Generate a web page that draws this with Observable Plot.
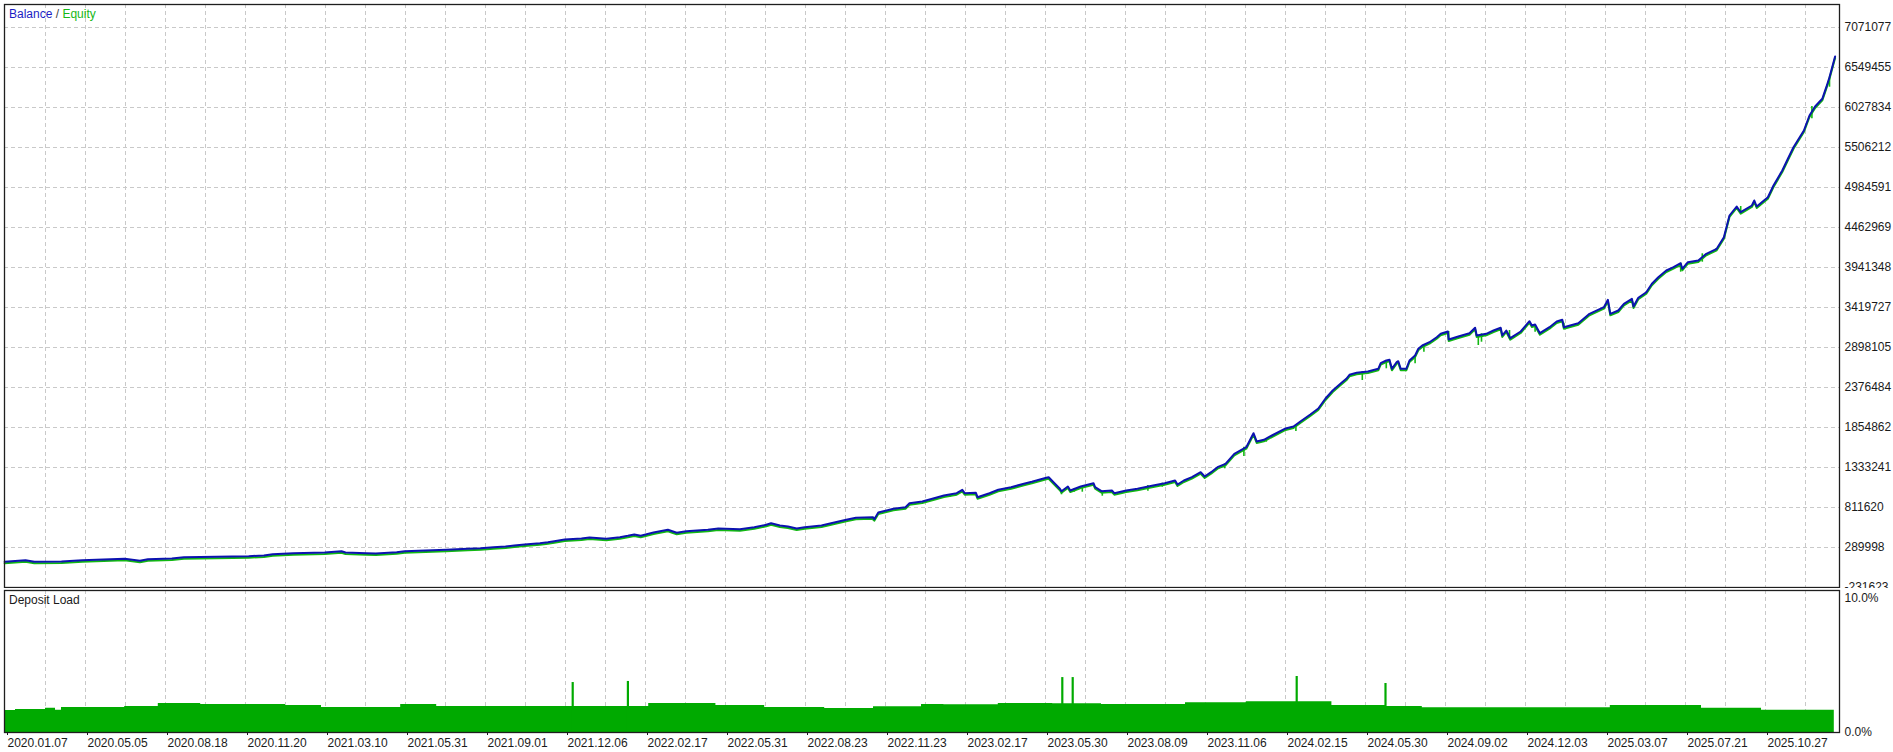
<!DOCTYPE html>
<html><head><meta charset="utf-8">
<script src="https://cdn.jsdelivr.net/npm/d3@7"></script>
<script src="https://cdn.jsdelivr.net/npm/@observablehq/plot@0.6"></script>
<style>
body{margin:0;background:#fff;}
#wrap{position:relative;width:1893px;height:752px;overflow:hidden;font-family:"Liberation Sans",Arial,sans-serif;background:#fff;}
#wrap svg{display:block;}
.lbl{position:absolute;font-size:12px;line-height:14px;white-space:pre;color:#1a1a1a;}
</style></head><body>
<div id="wrap"></div>
<script>
// x positions are expressed in "date label steps": 0 = first label, 1 = second label, ...
const dateLabels = ["2020.01.07","2020.05.05","2020.08.18","2020.11.20","2021.03.10","2021.05.31","2021.09.01","2021.12.06","2022.02.17","2022.05.31","2022.08.23","2022.11.23","2023.02.17","2023.05.30","2023.08.09","2023.11.06","2024.02.15","2024.05.30","2024.09.02","2024.12.03","2025.03.07","2025.07.21","2025.10.27"];

const balanceTicks = [-231623, 289998, 811620, 1333241, 1854862, 2376484, 2898105, 3419727, 3941348, 4462969, 4984591, 5506212, 6027834, 6549455, 7071077];

const loadTicks = [0, 10];

// [position, balance]
const balance = [
[-0.01,103519],[0.25,124384],[0.36,103519],[0.70,107431],[0.96,124384],[1.49,142641],[1.68,116559],[1.78,137424],
[2.08,146553],[2.23,163505],[3.04,176546],[3.23,185674],[3.34,202627],[3.60,215668],[3.99,224796],[4.20,241749],
[4.25,224796],[4.51,215668],[4.63,211755],[4.89,228708],[4.99,241749],[5.51,260005],[5.78,273046],[5.94,280870],
[6.10,293911],[6.25,303039],[6.36,316080],[6.49,329120],[6.68,346073],[6.78,359113],[6.86,372154],[6.99,394323],
[7.20,407363],[7.30,420404],[7.51,403451],[7.68,424316],[7.78,442573],[7.86,459526],[7.94,442573],[7.99,455613],
[8.10,485607],[8.28,520816],[8.39,481695],[8.51,502559],[8.78,520816],[8.91,537769],[9.18,528641],[9.36,554722],
[9.51,586019],[9.57,606884],[9.68,576890],[9.78,563850],[9.89,537769],[9.99,554722],[10.20,576890],[10.36,616012],
[10.51,651222],[10.63,677303],[10.84,685127],[10.86,659046],[10.91,746418],[11.10,794667],[11.25,815532],[11.30,867694],
[11.46,889863],[11.63,938113],[11.73,968107],[11.89,998100],[11.96,1042438],[11.99,998100],[12.13,1003316],[12.15,945938],
[12.30,998100],[12.41,1042438],[12.57,1076343],[12.73,1120681],[12.83,1146762],[13.01,1198924],[13.04,1206749],[13.10,1141546],
[13.18,1055478],[13.20,1024181],[13.28,1085472],[13.31,1033309],[13.44,1085472],[13.60,1128505],[13.62,1076343],[13.70,1024181],
[13.83,1033309],[13.86,998100],[14.01,1033309],[14.15,1055478],[14.33,1094600],[14.49,1128505],[14.62,1163715],[14.65,1111553],
[14.73,1163715],[14.83,1206749],[14.94,1271951],[14.99,1215877],[15.07,1271951],[15.15,1337154],[15.25,1381492],[15.36,1511897],
[15.51,1597965],[15.60,1780532],[15.64,1672296],[15.73,1694465],[15.83,1750539],[15.99,1837911],[16.10,1867904],[16.19,1937019],
[16.31,2024390],[16.41,2102634],[16.50,2233039],[16.59,2337363],[16.69,2428647],[16.76,2489938],[16.80,2542100],[16.89,2568181],
[17.03,2585134],[17.16,2620343],[17.19,2693370],[17.26,2728580],[17.30,2737708],[17.33,2620343],[17.39,2706411],[17.41,2719451],
[17.44,2620343],[17.51,2620343],[17.55,2728580],[17.62,2793782],[17.66,2881154],[17.71,2924188],[17.80,2967221],[17.89,3032424],
[17.94,3076762],[18.03,3106755],[18.04,3002431],[18.16,3041553],[18.30,3084586],[18.37,3155006],[18.39,3054593],[18.51,3076762],
[18.60,3119796],[18.69,3155006],[18.71,3054593],[18.76,3119796],[18.81,3019384],[18.94,3106755],[19.05,3241053],[19.08,3184998],
[19.12,3198039],[19.18,3084586],[19.30,3162830],[19.39,3237161],[19.46,3259330],[19.48,3162830],[19.66,3214992],[19.80,3337573],
[19.98,3423640],[20.03,3520140],[20.06,3337573],[20.16,3380607],[20.23,3467978],[20.33,3533181],[20.35,3432769],[20.41,3546221],
[20.51,3619248],[20.58,3728789],[20.66,3814857],[20.76,3902228],[20.85,3945262],[20.94,3997424],[20.96,3924397],[21.03,4010465],
[21.16,4032634],[21.26,4120005],[21.39,4185208],[21.48,4336478],[21.55,4619458],[21.64,4736823],[21.69,4662492],[21.83,4749863],
[21.86,4815066],[21.89,4736823],[22.03,4858100],[22.10,5010674],[22.21,5206282],[22.28,5358857],[22.35,5510127],[22.48,5727904],
[22.55,5923512],[22.62,6040877],[22.71,6141289],[22.76,6292559],[22.80,6422965],[22.87,6692904]
];

// equity drawdowns: [position, balance at that moment, equity low]
const equityDips = [
[10.85,685127,632965],[11.81,980000,945938],[13.20,1024181,977235],[13.36,1060000,1011140],[13.46,1085472,1011140],
[13.71,1024181,958978],[14.28,1100000,1024181],[14.46,1128505,1076343],[15.24,1381492,1316289],[15.48,1597965,1476688],
[15.76,1694465,1663167],[16.13,1867904,1802701],[16.96,2585134,2467769],[17.26,2728580,2620343],[17.62,2793782,2685546],
[17.73,2924188,2836816],[18.04,3106755,2989390],[18.41,3054593,2924188],[18.45,3076762,2967221],[18.80,3119796,3011559],
[19.12,3198039,3097627],[19.48,3214992,3141966],[20.94,3997424,3880059],[21.21,4120005,4010465],[21.38,4185208,4153911],
[21.69,4736823,4641627],[22.58,6040877,5880478],[22.80,6422965,6292559]
];

// deposit load, %: [position, load]
const depositLoad = [
[-0.01,1.64],[0.125,1.72],[0.5,1.81],[0.625,1.66],[0.7,1.87],[1.49,1.94],[1.91,2.16],[2.44,2.09],[3.5,2.01],[3.95,1.87],
[4.94,2.09],[5.39,1.94],[6.75,1.94],[8.04,2.16],[8.88,2.01],[9.49,1.87],[10.24,1.79],[10.85,1.92],[11.45,2.09],[11.73,2.07],
[12.41,2.16],[13.09,2.14],[13.7,2.09],[14.75,2.22],[15.51,2.29],[16.58,2.01],[17.25,1.94],[17.71,1.84],[19.0,1.84],[20.06,2.01],
[21.2,1.81],[21.95,1.66],[22.86,1.66]
];

// deposit load spikes: [position, load]
const loadSpikes = [[7.09,3.73],[7.78,3.81],[13.21,4.10],[13.34,4.10],[16.14,4.18],[17.25,3.66]];

const balanceColor = "#0c12b0";
const equityColor = "#12b812";
const loadColor = "#00aa00";
const gridColor = "#c9c9c9";
const frameColor = "#1e1e1e";

const xDomain = [-0.0125, 22.925];
const gridPos = d3.range(1, 46).map(k => k / 2);
const W = 1893;
const baseStyle = {fontFamily: "'Liberation Sans', Arial, sans-serif", fontSize: "12px", color: "#1a1a1a", background: "#fff", overflow: "hidden"};

const topChart = Plot.plot({
  width: W, height: 588,
  marginTop: 4, marginBottom: 1, marginLeft: 4, marginRight: 54,
  x: {domain: xDomain, axis: null},
  y: {domain: [-231623, 7371012], axis: null},
  style: baseStyle,
  marks: [
    Plot.gridX(gridPos, {stroke: gridColor, strokeOpacity: 1, strokeDasharray: "4,3"}),
    Plot.gridY(balanceTicks, {stroke: gridColor, strokeOpacity: 1, strokeDasharray: "4,3"}),
    Plot.line(balance, {x: d => d[0], y: d => d[1], stroke: equityColor, strokeWidth: 2, dy: 1.5}),
    Plot.ruleX(equityDips, {x: d => d[0], y1: d => d[2], y2: d => d[1], stroke: equityColor, strokeWidth: 1.6}),
    Plot.line(balance, {x: d => d[0], y: d => d[1], stroke: balanceColor, strokeWidth: 2}),
    Plot.frame({stroke: frameColor, strokeWidth: 1.3}),
    Plot.axisY(balanceTicks, {anchor: "right", tickSize: 3, tickPadding: 2, textAnchor: "start", tickFormat: d => String(d), fontSize: 12, fill: "#1a1a1a", stroke: null})
  ]
});

const bottomChart = Plot.plot({
  width: W, height: 164,
  marginTop: 2, marginBottom: 20, marginLeft: 4, marginRight: 54,
  x: {domain: xDomain, axis: null},
  y: {domain: [0, 10.6], axis: null},
  style: baseStyle,
  marks: [
    Plot.gridX(gridPos, {stroke: gridColor, strokeOpacity: 1, strokeDasharray: "4,3"}),
    Plot.areaY(depositLoad, {x: d => d[0], y: d => d[1], curve: "step-after", fill: loadColor}),
    Plot.ruleX(loadSpikes, {x: d => d[0], y1: 0, y2: d => d[1], stroke: loadColor, strokeWidth: 2.2}),
    Plot.frame({stroke: frameColor, strokeWidth: 1.3}),
    Plot.axisY(loadTicks, {anchor: "right", tickSize: 0, tickPadding: 5, textAnchor: "start", tickFormat: d => d.toFixed(1) + "%", fontSize: 12, fill: "#1a1a1a"}),
    Plot.axisX(d3.range(dateLabels.length), {anchor: "bottom", tickSize: 3, tickPadding: 3, textAnchor: "start", dx: 2, tickFormat: i => dateLabels[i], fontSize: 12, fill: "#1a1a1a"})
  ]
});

const wrap = document.getElementById("wrap");
wrap.appendChild(topChart);
wrap.appendChild(bottomChart);

const t1 = document.createElement("div");
t1.className = "lbl";
t1.style.left = "9px"; t1.style.top = "7px";
t1.innerHTML = '<span style="color:#1c1cc4">Balance</span><span style="color:#444"> / </span><span style="color:#17b817">Equity</span>';
wrap.appendChild(t1);

const t2 = document.createElement("div");
t2.className = "lbl";
t2.style.left = "9px"; t2.style.top = "593px";
t2.textContent = "Deposit Load";
wrap.appendChild(t2);
</script>
</body></html>
